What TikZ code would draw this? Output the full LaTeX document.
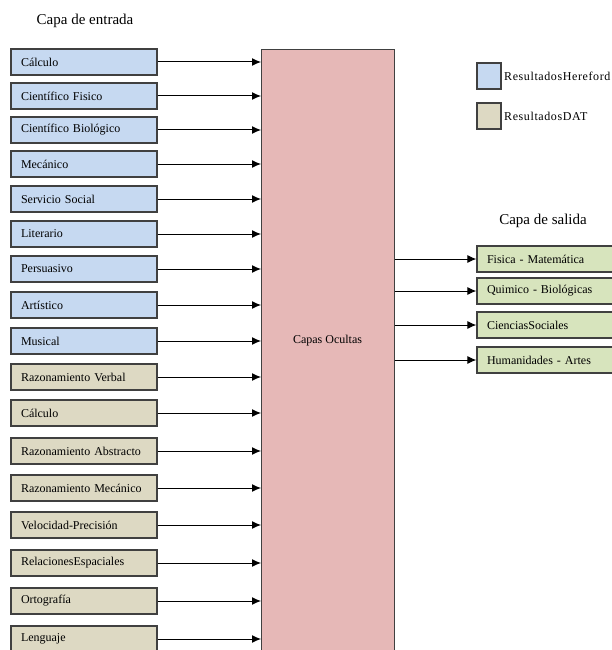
\documentclass[tikz,border=0pt]{standalone}
\usepackage{fontspec}
\setmainfont{Liberation Serif}
\usetikzlibrary{arrows.meta}
\definecolor{hblue}{HTML}{C6D9F1}
\definecolor{dtan}{HTML}{DDD9C3}
\definecolor{hpink}{HTML}{E6B8B7}
\definecolor{ogreen}{HTML}{D7E4BD}
\definecolor{edge}{HTML}{404040}
\tikzset{
  box/.style={draw=edge, line width=1.2pt, rectangle, minimum height=26pt,
    inner xsep=10pt, inner ysep=0pt, align=left, font=\fontsize{12}{14}\selectfont},
  inbox/.style={box, minimum width=146pt, text width=126pt},
  outbox/.style={box, fill=ogreen, minimum width=140pt, text width=120pt},
  hf/.style={fill=hblue},
  df/.style={fill=dtan},
  legbox/.style={draw=edge, line width=1.2pt, rectangle, minimum width=24pt, minimum height=26pt, inner sep=0pt},
  legtext/.style={anchor=west, inner sep=0pt, font=\fontsize{12}{14}\selectfont\addfontfeature{LetterSpace=5}},
  title/.style={inner sep=0pt, font=\fontsize{15}{18}\selectfont},
  arr/.style={-{Latex[length=9pt,width=8pt]}, line width=1pt, black},
}
\begin{document}
\begin{tikzpicture}[x=1pt,y=-1pt]
\useasboundingbox (0,0) rectangle (611,650);
\node[title] (tin) at (85,21) {Capa de entrada};
\node[title] (tout) at (543,221) {Capa de salida};
\node[draw=edge, line width=0.9pt, fill=hpink, minimum width=133pt, minimum height=608pt, inner sep=0pt, anchor=north west] (hid) at (261,49) {};
\node[font=\fontsize{12}{14}\selectfont] (hidtxt) at (327.5,341) {Capas Ocultas};
\foreach \n/\y/\c/\t in {
  1/62/hf/{Cálculo},
  2/96/hf/{Científico Fisico},
  3/130/hf/{Científico Biológico},
  4/164/hf/{Mecánico},
  5/199/hf/{Servicio Social},
  6/234/hf/{Literario},
  7/269/hf/{Persuasivo},
  8/305/hf/{Artístico},
  9/341/hf/{Musical},
  10/377/df/{Razonamiento Verbal},
  11/413/df/{Cálculo},
  12/451/df/{Razonamiento Abstracto},
  13/488/df/{Razonamiento Mecánico},
  14/525/df/{Velocidad-Precisión},
  15/563/df/{RelacionesEspaciales},
  16/601/df/{Ortografía},
  17/639/df/{Lenguaje}}{
  \node[inbox,\c] (in\n) at (84,\y) {\t};
  \draw[arr] (in\n.east) -- (in\n.east -| hid.west);
}
\foreach \n/\y/\t in {
  1/259/{Fisica - Matemática},
  2/291/{Quimico - Biológicas},
  3/325/{CienciasSociales},
  4/360/{Humanidades - Artes}}{
  \node[outbox] (out\n) at (547,\y) {\t};
  \draw[arr] (out\n.west -| hid.east) -- (out\n.west);
}
\node[legbox, fill=hblue] (lg1) at (489,76) {};
\node[legtext] (lt1) at (504,76) {ResultadosHereford};
\node[legbox, fill=dtan] (lg2) at (489,116) {};
\node[legtext] (lt2) at (504,116) {ResultadosDAT};
\end{tikzpicture}
\end{document}
